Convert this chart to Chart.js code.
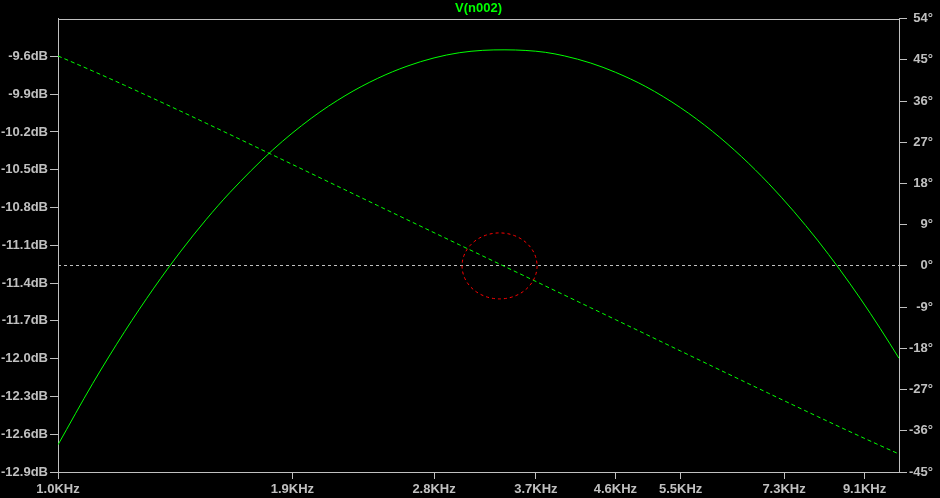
<!DOCTYPE html>
<html>
<head>
<meta charset="utf-8">
<script src="https://cdn.jsdelivr.net/npm/chart.js@4/dist/chart.umd.min.js"></script>
<style>
  html, body { margin: 0; padding: 0; background: #000; }
  #wrap { width: 940px; height: 498px; }
</style>
</head>
<body>
<div id="wrap"><canvas id="c" width="940" height="498"></canvas></div>
<script>
// Frequencies (Hz)
const freqs = [1000, 1100, 1200, 1300, 1400, 1500, 1600, 1800, 2000, 2200, 2400, 2600, 2800, 3000, 3200, 3400, 3600, 3800, 4000, 4300, 4600, 5000, 5500, 6000, 6500, 7000, 7500, 8000, 8500, 9000, 9500, 10000];
// Magnitude of V(n002) in dB (solid trace, left axis)
const magnitudeDb = [-12.684, -12.196, -11.786, -11.440, -11.146, -10.896, -10.683, -10.343, -10.092, -9.908, -9.774, -9.678, -9.612, -9.571, -9.552, -9.548, -9.553, -9.568, -9.596, -9.653, -9.726, -9.840, -10.008, -10.195, -10.397, -10.610, -10.832, -11.059, -11.291, -11.525, -11.761, -11.997];
// Phase of V(n002) in degrees (dashed trace, right axis)
const phaseDeg = [45.85, 42.55, 39.44, 36.51, 33.76, 31.16, 28.72, 24.22, 20.18, 16.51, 13.17, 10.10, 7.26, 4.62, 2.16, -0.16, -2.34, -4.41, -6.37, -9.14, -11.72, -14.92, -18.59, -21.93, -25.00, -27.83, -30.45, -32.88, -35.15, -37.26, -39.23, -41.07];

// Tick values
const freqTicks = [1000, 1900, 2800, 3700, 4600, 5500, 7300, 9100];
const dbTicks = [-12.9, -12.6, -12.3, -12.0, -11.7, -11.4, -11.1, -10.8, -10.5, -10.2, -9.9, -9.6];
const phaseTicks = [-45, -36, -27, -18, -9, 0, 9, 18, 27, 36, 45, 54];
const traceName = 'V(n002)';
const markerCenter = { freq: 3350, phase: 0 };

const GREEN = '#00ff00';
const GRAY = '#c0c0c0';
const FONT = { family: '"Liberation Sans", Arial, sans-serif', size: 13, weight: 'bold' };

const frame = {
  id: 'frame',
  beforeDraw(chart) {
    const { ctx, width, height } = chart;
    ctx.save();
    ctx.fillStyle = '#000';
    ctx.fillRect(0, 0, width, height);
    ctx.restore();
  },
  beforeDatasetsDraw(chart) {
    const { ctx, chartArea: a, scales } = chart;
    ctx.save();
    ctx.strokeStyle = GRAY;
    ctx.lineWidth = 1;
    ctx.beginPath();
    ctx.moveTo(Math.round(a.left) + 0.5, Math.round(a.top) + 0.5);
    ctx.lineTo(Math.round(a.right) + 0.5, Math.round(a.top) + 0.5);
    ctx.stroke();
    const y0 = Math.round(scales.yPhase.getPixelForValue(0)) - 0.5;
    ctx.setLineDash([3, 3]);
    ctx.beginPath();
    ctx.moveTo(a.left, y0);
    ctx.lineTo(a.right, y0);
    ctx.stroke();
    ctx.restore();
  },
  afterDatasetsDraw(chart) {
    const { ctx, scales } = chart;
    const cx = scales.x.getPixelForValue(markerCenter.freq);
    const cy = scales.yPhase.getPixelForValue(markerCenter.phase);
    ctx.save();
    ctx.strokeStyle = '#ff0000';
    ctx.lineWidth = 1;
    ctx.setLineDash([3, 3]);
    ctx.beginPath();
    ctx.ellipse(cx, cy, 37.5, 33, 0, 0, Math.PI * 2);
    ctx.stroke();
    ctx.restore();
  }
};

new Chart(document.getElementById('c'), {
  type: 'line',
  data: {
    datasets: [
      {
        label: 'magnitude',
        data: freqs.map((f, i) => ({ x: f, y: magnitudeDb[i] })),
        yAxisID: 'yDb',
        borderColor: GREEN,
        borderWidth: 1,
        pointRadius: 0,
        cubicInterpolationMode: 'monotone',
        fill: false
      },
      {
        label: 'phase',
        data: freqs.map((f, i) => ({ x: f, y: phaseDeg[i] })),
        yAxisID: 'yPhase',
        borderColor: GREEN,
        borderWidth: 1,
        borderDash: [4, 3],
        pointRadius: 0,
        cubicInterpolationMode: 'monotone',
        fill: false
      }
    ]
  },
  options: {
    responsive: false,
    devicePixelRatio: 1,
    animation: false,
    layout: { padding: { left: 0, top: 0, bottom: 0, right: 7 } },
    plugins: {
      legend: { display: false },
      tooltip: { enabled: false },
      title: {
        display: true,
        text: traceName,
        color: GREEN,
        fullSize: false,
        font: FONT,
        padding: { top: 1, bottom: 2 }
      }
    },
    scales: {
      x: {
        type: 'logarithmic',
        position: 'bottom',
        min: 1000,
        max: 10000,
        afterBuildTicks(s) { s.ticks = freqTicks.map(v => ({ value: v })); },
        afterFit(s) { s.height = 26; },
        grid: { drawOnChartArea: false, drawTicks: true, tickLength: 7, color: GRAY },
        border: { display: true, color: GRAY, width: 1 },
        ticks: {
          autoSkip: false, maxRotation: 0, minRotation: 0,
          color: GRAY, font: FONT, padding: 3,
          callback: v => (v / 1000).toFixed(1) + 'KHz'
        }
      },
      yDb: {
        type: 'linear',
        position: 'left',
        min: -12.9,
        max: -9.3,
        afterBuildTicks(s) { s.ticks = dbTicks.map(v => ({ value: v })); },
        afterFit(s) { s.width = 58; },
        grid: { drawOnChartArea: false, drawTicks: true, tickLength: 8, color: GRAY },
        border: { display: true, color: GRAY, width: 1 },
        ticks: {
          color: GRAY, font: FONT, padding: 2,
          callback: v => Number(v).toFixed(1) + 'dB'
        }
      },
      yPhase: {
        type: 'linear',
        position: 'right',
        min: -45,
        max: 54,
        afterBuildTicks(s) { s.ticks = phaseTicks.map(v => ({ value: v })); },
        afterFit(s) { s.width = 34; },
        grid: { drawOnChartArea: false, drawTicks: true, tickLength: 8, color: GRAY },
        border: { display: true, color: GRAY, width: 1 },
        ticks: {
          color: GRAY, font: FONT, padding: 1, crossAlign: 'far',
          callback: v => Math.round(v) + '°'
        }
      }
    }
  },
  plugins: [frame]
});
</script>
</body>
</html>
